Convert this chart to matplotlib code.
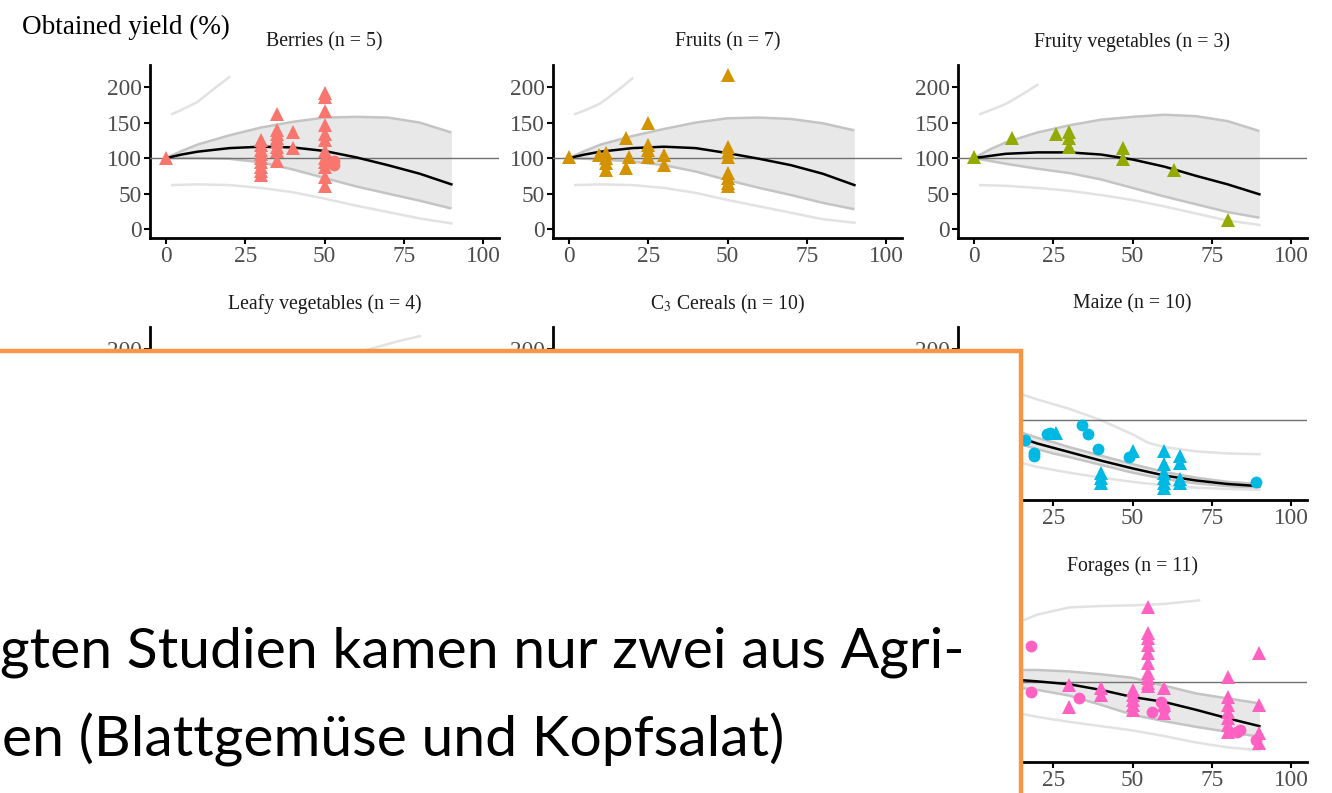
import matplotlib
matplotlib.use("Agg")
import matplotlib.pyplot as plt
from matplotlib.patches import Rectangle

plt.rcParams['font.family'] = ['Liberation Serif', 'DejaVu Serif']
plt.rcParams['mathtext.fontset'] = 'stix'

W, H = 1332, 793

# ---- data ----
# shared curve grid for the top row
x_curve = [0, 5, 10, 20, 30, 40, 50, 60, 70, 80, 90]
x_outer_up = [2, 5, 10, 15, 20]
x_outer_lo = [2, 10, 20, 30, 40, 50, 60, 70, 80, 90]

berries_fit = [100, 105, 109, 114, 116, 115, 110, 101, 90, 78, 63]
berries_hi = [100, 110, 119, 132, 143, 151, 157, 158, 157, 150, 136]
berries_lo = [100, 100, 100, 99, 94, 84, 72, 60, 50, 40, 29]
berries_out_hi = [162, 168, 179, 197, 214]
berries_out_lo = [62, 63, 62, 58, 52, 43, 33, 24, 15, 8]
berries_tri_x = [0, 30, 30, 30, 30, 30, 30, 30, 30, 30, 35, 35, 35, 35, 35, 35, 35, 35,
                 40, 40, 50, 50, 50, 50, 50, 50, 50, 50, 50, 50, 50, 50]
berries_tri_y = [100, 125, 118, 112, 106, 100, 94, 88, 82, 76, 162, 140, 134, 128, 122, 116, 110, 96,
                 136, 114, 192, 186, 166, 146, 134, 126, 110, 100, 94, 88, 74, 60]
berries_circ_x = [53, 53]
berries_circ_y = [90, 96]

fruits_fit = [100, 105, 109, 114, 116, 114, 107, 99, 90, 78, 62]
fruits_hi = [100, 110, 119, 131, 141, 150, 156, 157, 155, 149, 139]
fruits_lo = [100, 99, 98, 95, 90, 81, 69, 58, 48, 37, 28]
fruits_out_hi = [162, 167, 177, 194, 212]
fruits_out_lo = [62, 63, 62, 58, 51, 41, 32, 23, 14, 9]
fruits_tri_x = [0, 9.5, 11.7, 11.7, 11.7, 11.7, 18, 18, 19, 25, 25, 25, 25, 30, 30,
                50, 50, 50, 50, 50, 50, 50, 50]
fruits_tri_y = [101, 104, 107, 100, 93, 83, 128, 86, 101, 150, 118, 111, 101, 104, 90,
                217, 116, 108, 101, 79, 72, 65, 60]

fruity_fit = [100, 103, 106, 108, 108, 105, 98, 88, 75, 63, 49]
fruity_hi = [100, 112, 122, 136, 146, 154, 158, 161, 159, 152, 138]
fruity_lo = [100, 96, 92, 85, 79, 70, 58, 46, 35, 24, 16]
fruity_out_hi = [162, 167, 176, 189, 203]
fruity_out_lo = [62, 61, 58, 54, 48, 41, 32, 22, 12, 6]
fruity_tri_x = [0, 12, 26, 30, 30, 30, 47, 47, 63, 80]
fruity_tri_y = [101, 128, 134, 137, 128, 116, 114, 98, 83, 13]

leafy_out_x = [60, 62, 66, 70, 75, 80]
leafy_out_hi = [194, 197, 202, 207, 213, 218]

maize_x = [14, 20, 25, 30, 40, 50, 60, 70, 80, 90]
maize_fit = [76, 67, 61, 55, 43, 32, 22, 15, 10, 7]
maize_hi = [84, 75, 69, 62, 50, 38, 27, 19, 13, 10]
maize_lo = [67, 59, 53, 48, 37, 26, 17, 11, 7, 4]
maize_out_x = [14, 20, 30, 40, 50, 55, 60, 70, 80, 90]
maize_out_hi = [138, 129, 116, 100, 80, 68, 62, 56, 53, 52]
maize_out_lo_x = [14, 20, 30, 40, 50, 60, 70, 80, 90]
maize_out_lo = [41, 34, 26, 19, 13, 8, 5, 3, 2]
maize_circ_x = [16, 19, 19, 23, 24, 34, 36, 39, 49, 89]
maize_circ_y = [72, 54, 50, 80, 82, 93, 80, 59, 48, 13]
maize_tri_x = [26, 40, 40, 40, 50, 60, 60, 60, 60, 60, 60, 65, 65, 65, 65]
maize_tri_y = [82, 25, 18, 11, 56, 56, 38, 25, 18, 11, 4, 49, 40, 17, 11]

forages_x = [14, 20, 30, 40, 50, 60, 70, 80, 90]
forages_fit = [103, 101, 97, 89, 79, 72, 61, 49, 38]
forages_hi = [117, 117, 115, 111, 106, 95, 84, 77, 70]
forages_lo = [92, 89, 81, 68, 54, 45, 37, 30, 23]
forages_out_hi_x = [14, 20, 30, 40, 50, 60, 71]
forages_out_hi = [184, 195, 205, 207, 208, 210, 215]
forages_out_lo = [56, 51, 44, 38, 32, 24, 15, 8, 4]
forages_circ_x = [18, 18, 33, 56, 59, 60, 83, 84, 89]
forages_circ_y = [151, 86, 77, 58, 72, 62, 30, 32, 18]
forages_tri_x = [30, 30, 40, 40, 50, 50, 50, 50, 50, 55, 55, 55, 55, 55, 55, 55, 55, 55, 55,
                 60, 60, 60, 80, 80, 80, 80, 80, 80, 80, 90, 90, 90, 90]
forages_tri_y = [96, 65, 92, 82, 89, 82, 75, 68, 61, 206, 169, 162, 152, 141, 127, 113, 106, 99, 94,
                 92, 68, 56, 107, 79, 68, 58, 49, 39, 30, 141, 68, 28, 14]

col_left = [150, 553, 958]
row_top = [65, 327, 589]
ax_w, ax_h = 349, 173


def make_ax(col, row, title, ylabels=True):
    rect = [col_left[col] / W, 1 - (row_top[row] + ax_h) / H, ax_w / W, ax_h / H]
    ax = fig.add_axes(rect)
    ax.set_xlim(-5, 105)
    ax.set_ylim(-12.5, 231)
    for s in ['top', 'right']:
        ax.spines[s].set_visible(False)
    for s in ['left', 'bottom']:
        ax.spines[s].set_linewidth(2.0)
    ax.set_xticks([0, 25, 50, 75, 100])
    ax.set_yticks([0, 50, 100, 150, 200])
    ax.tick_params(length=4, width=1.5, labelsize=16.8, labelcolor='#4D4D4D', pad=2)
    if not ylabels:
        # fully hidden behind the text box
        ax.tick_params(axis='y', labelleft=False)
    ax.axhline(100, color='#707070', lw=1.0, zorder=3)
    ax.text(0.5, 1 + 23 / ax_h, title, transform=ax.transAxes, ha='center', va='center',
            fontsize=14.2, color='#1A1A1A')
    return ax


def draw_fit(ax, x, fit, lo, hi, xo_hi, out_hi, xo_lo, out_lo):
    ax.fill_between(x, lo, hi, color='#E8E8E8', lw=0, zorder=1)
    ax.plot(x, hi, color='#C4C4C4', lw=1.8, zorder=2, solid_capstyle='butt')
    ax.plot(x, lo, color='#C4C4C4', lw=1.8, zorder=2, solid_capstyle='butt')
    ax.plot(xo_hi, out_hi, color='#E2E2E2', lw=1.8, zorder=2)
    ax.plot(xo_lo, out_lo, color='#E2E2E2', lw=1.8, zorder=2)
    ax.plot(x, fit, color='black', lw=1.8, zorder=4)


def draw_pts(ax, color, tx, ty, cx=None, cy=None):
    ax.plot(tx, ty, '^', color=color, ms=10.5, mew=0, zorder=5, clip_on=False)
    if cx is not None:
        ax.plot(cx, cy, 'o', color=color, ms=8.5, mew=0, zorder=5, clip_on=False)


fig = plt.figure(figsize=(W / 100, H / 100), dpi=100)

ax = make_ax(0, 0, 'Berries (n = 5)')
draw_fit(ax, x_curve, berries_fit, berries_lo, berries_hi, x_outer_up, berries_out_hi, x_outer_lo, berries_out_lo)
draw_pts(ax, '#F8766D', berries_tri_x, berries_tri_y, berries_circ_x, berries_circ_y)

ax = make_ax(1, 0, 'Fruits (n = 7)')
draw_fit(ax, x_curve, fruits_fit, fruits_lo, fruits_hi, x_outer_up, fruits_out_hi, x_outer_lo, fruits_out_lo)
draw_pts(ax, '#D39200', fruits_tri_x, fruits_tri_y)

ax = make_ax(2, 0, 'Fruity vegetables (n = 3)')
draw_fit(ax, x_curve, fruity_fit, fruity_lo, fruity_hi, x_outer_up, fruity_out_hi, x_outer_lo, fruity_out_lo)
draw_pts(ax, '#93AA00', fruity_tri_x, fruity_tri_y)

ax = make_ax(0, 1, 'Leafy vegetables (n = 4)')
ax.plot(leafy_out_x, leafy_out_hi, color='#E2E2E2', lw=1.8, zorder=2)

ax = make_ax(1, 1, r'C$_{\mathrm{3}}$ Cereals (n = 10)')

ax = make_ax(2, 1, 'Maize (n = 10)')
draw_fit(ax, maize_x, maize_fit, maize_lo, maize_hi, maize_out_x, maize_out_hi, maize_out_lo_x, maize_out_lo)
draw_pts(ax, '#00B9E3', maize_tri_x, maize_tri_y, maize_circ_x, maize_circ_y)

ax = make_ax(2, 2, 'Forages (n = 11)', ylabels=False)
draw_fit(ax, forages_x, forages_fit, forages_lo, forages_hi, forages_out_hi_x, forages_out_hi, forages_x, forages_out_lo)
draw_pts(ax, '#FF61C3', forages_tri_x, forages_tri_y, forages_circ_x, forages_circ_y)

fig.text(22 / W, 1 - 27 / H, 'Obtained yield (%)', ha='left', va='center', fontsize=19.5)

# slide text box on top of the chart
box = Rectangle((-20 / W, -20 / H), (1021 + 20) / W, (793 - 351 + 20) / H, transform=fig.transFigure,
                facecolor='white', edgecolor='#F79646', lw=3.2, zorder=10)
fig.add_artist(box)
fig.text(965 / W, 1 - 652 / H, 'gten Studien kamen nur zwei aus Agri-', ha='right', va='center',
         fontsize=41, family=['Lato', 'DejaVu Sans'], zorder=11)
fig.text(2 / W, 1 - 740 / H, 'en (Blattgemüse und Kopfsalat)', ha='left', va='center',
         fontsize=41, family=['Lato', 'DejaVu Sans'], zorder=11)

fig.savefig('out.png', dpi=100)
